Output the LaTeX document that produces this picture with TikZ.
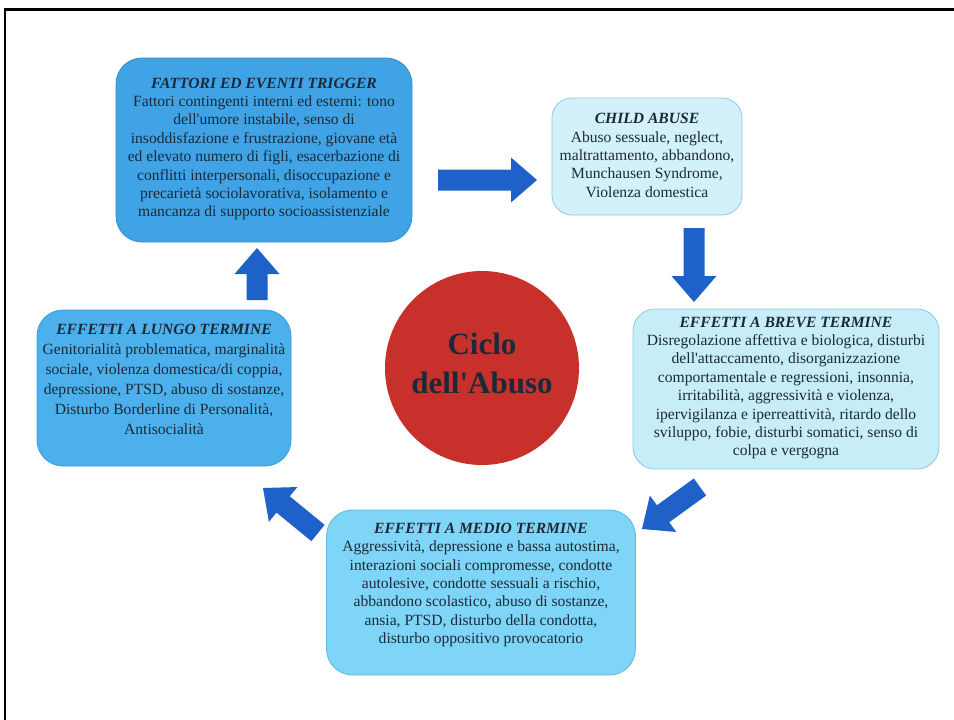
\documentclass[tikz,border=0pt]{standalone}
\usepackage{fontspec}
\setmainfont{Liberation Serif}
\usetikzlibrary{calc}
\definecolor{boxA}{HTML}{3FA3E6}
\definecolor{boxAline}{HTML}{2E8FD0}
\definecolor{boxB}{HTML}{D3F1FA}
\definecolor{boxBline}{HTML}{8ECDDC}
\definecolor{boxC}{HTML}{C6EDF8}
\definecolor{boxCline}{HTML}{8EC9DB}
\definecolor{boxD}{HTML}{4CB0EC}
\definecolor{boxDline}{HTML}{3A9AD8}
\definecolor{boxE}{HTML}{7FD5F7}
\definecolor{boxEline}{HTML}{5EB8E0}
\definecolor{arrowblue}{HTML}{1E62C9}
\definecolor{txt}{HTML}{1A2A38}
\definecolor{circred}{HTML}{C8302B}
\newcommand{\ap}{\textquotesingle}
\newcommand{\blockarrow}[2]{%
  \coordinate (ba-h) at ($(#2)!26pt!(#1)$);
  \fill[arrowfill] ($(#1)!10.5pt!90:(#2)$) -- ($(ba-h)!10.5pt!90:(#2)$) -- ($(ba-h)!22.5pt!90:(#2)$) -- (#2) -- ($(ba-h)!22.5pt!-90:(#2)$) -- ($(ba-h)!10.5pt!-90:(#2)$) -- ($(#1)!10.5pt!-90:(#2)$) -- cycle;}
\tikzset{
  box/.style={draw, line width=0.8pt, inner sep=0pt},
  boxtext/.style={text=txt, align=center, inner sep=0pt, font=\fontsize{15.6}{18.4}\selectfont},
  arrowfill/.style={fill=arrowblue},
}
\begin{document}
\begin{tikzpicture}[x=1pt,y=-1pt]
\useasboundingbox (0,0) rectangle (954,720);
\fill[white] (0,0) rectangle (954,720);
% frame
\draw[line width=2.5pt] (5,720) -- (5,9.5) -- (954,9.5);

% boxes
\node[box, fill=boxA, draw=boxAline, rounded corners=26pt, minimum width=296pt, minimum height=184pt] (b1) at (264,150) {};
\node[box, fill=boxB, draw=boxBline, rounded corners=20pt, minimum width=190pt, minimum height=117pt] (b2) at (647,156.5) {};
\node[box, fill=boxC, draw=boxCline, rounded corners=22pt, minimum width=306pt, minimum height=160pt] (b3) at (786,389) {};
\node[box, fill=boxD, draw=boxDline, rounded corners=26pt, minimum width=254pt, minimum height=156pt] (b4) at (164,388) {};
\node[box, fill=boxE, draw=boxEline, rounded corners=26pt, minimum width=309pt, minimum height=165pt] (b5) at (481,592.5) {};

% texts
\node[boxtext] (t1) at (264,149) {\textbf{\textit{FATTORI ED EVENTI TRIGGER}}\\
Fattori contingenti interni ed esterni: tono\\
dell\ap umore instabile, senso di\\
insoddisfazione e frustrazione, giovane età\\
ed elevato numero di figli, esacerbazione di\\
conflitti interpersonali, disoccupazione e\\
precarietà sociolavorativa, isolamento e\\
mancanza di supporto socioassistenziale};

\node[boxtext] (t2) at (647,155.5) {\textbf{\textit{CHILD ABUSE}}\\
Abuso sessuale, neglect,\\
maltrattamento, abbandono,\\
Munchausen Syndrome,\\
Violenza domestica};

\node[boxtext] (t3) at (786,388) {\textbf{\textit{EFFETTI A BREVE TERMINE}}\\
Disregolazione affettiva e biologica, disturbi\\
dell\ap attaccamento, disorganizzazione\\
comportamentale e regressioni, insonnia,\\
irritabilità, aggressività e violenza,\\
ipervigilanza e iperreattività, ritardo dello\\
sviluppo, fobie, disturbi somatici, senso di\\
colpa e vergogna};

\node[boxtext, font=\fontsize{15.6}{20}\selectfont] (t4) at (164,379) {\textbf{\textit{EFFETTI A LUNGO TERMINE}}\\
Genitorialità problematica, marginalità\\
sociale, violenza domestica/di coppia,\\
depressione, PTSD, abuso di sostanze,\\
Disturbo Borderline di Personalità,\\
Antisocialità};

\node[boxtext] (t5) at (481,585) {\textbf{\textit{EFFETTI A MEDIO TERMINE}}\\
Aggressività, depressione e bassa autostima,\\
interazioni sociali compromesse, condotte\\
autolesive, condotte sessuali a rischio,\\
abbandono scolastico, abuso di sostanze,\\
ansia, PTSD, disturbo della condotta,\\
disturbo oppositivo provocatorio};

% central circle
\node[circle, fill=circred, minimum size=194pt, inner sep=0pt, text=txt, align=center,
  font=\fontsize{31}{39}\selectfont\bfseries] (c) at (482,368) {};
\node[text=txt, align=center, inner sep=0pt, font=\fontsize{31}{39}\selectfont\bfseries] (ct) at (482,363) {Ciclo\\dell\ap Abuso};

% arrows
\coordinate (a1s) at (438,180); \coordinate (a1e) at (537,180);
\coordinate (a2s) at (694,228); \coordinate (a2e) at (694,302);
\coordinate (a3s) at (700,487); \coordinate (a3e) at (642,529);
\coordinate (a4s) at (318,533); \coordinate (a4e) at (263,488);
\coordinate (a5s) at (257,300); \coordinate (a5e) at (257,248);
\blockarrow{a1s}{a1e}
\blockarrow{a2s}{a2e}
\blockarrow{a3s}{a3e}
\blockarrow{a4s}{a4e}
\blockarrow{a5s}{a5e}
\end{tikzpicture}
\end{document}
